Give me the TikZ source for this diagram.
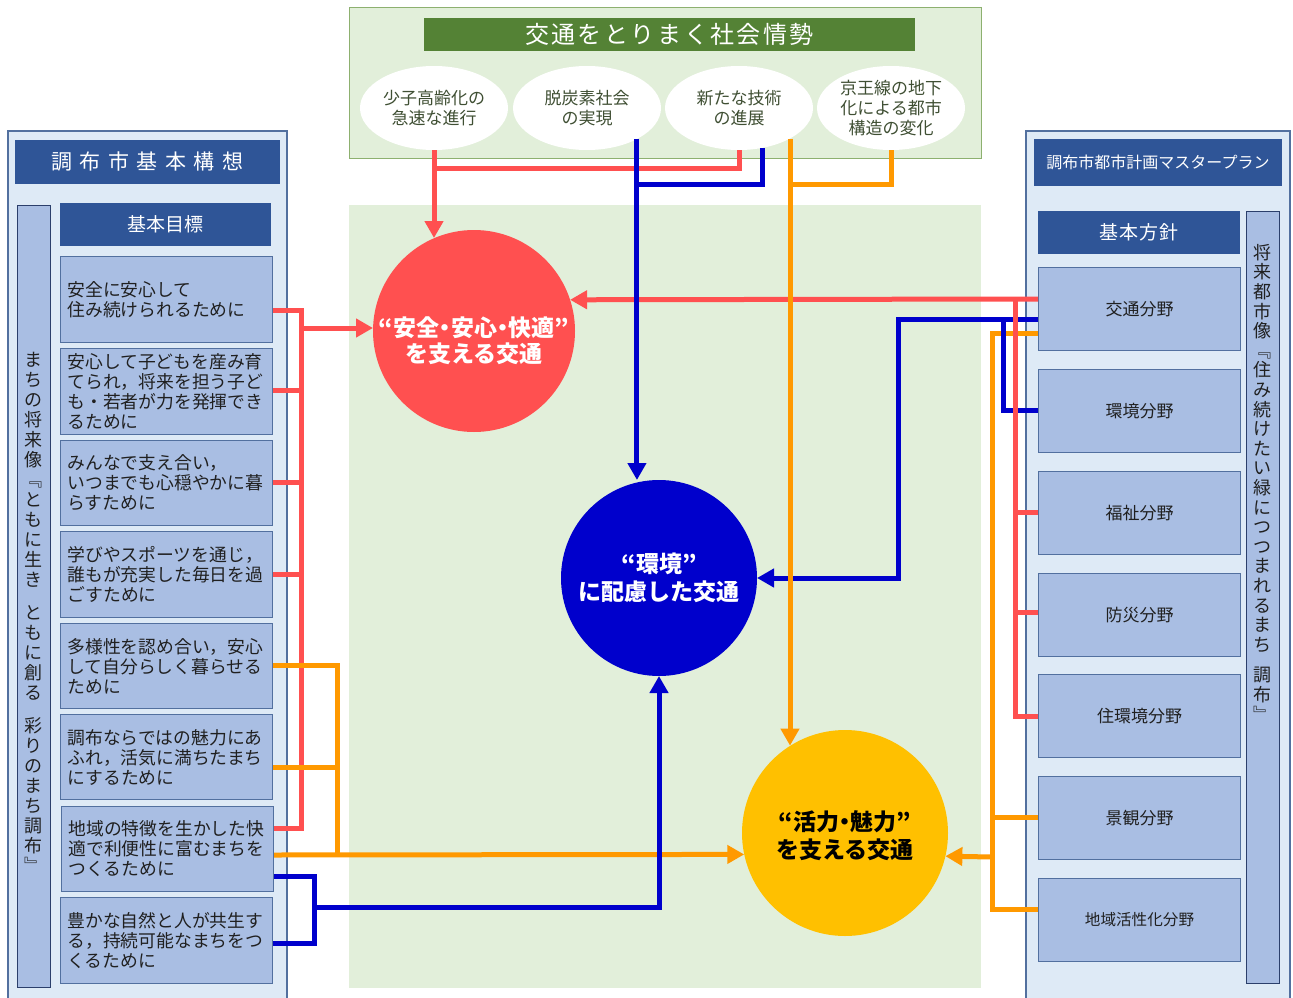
\documentclass[tikz,border=0pt]{standalone}
\usepackage{fontspec}
\setmainfont{Noto Sans CJK JP}
\newfontfamily\jpp[RawFeature=+palt]{Noto Sans CJK JP}
\usetikzlibrary{arrows.meta,shapes.geometric,calc}
\definecolor{cred}{HTML}{FF5050}
\definecolor{cblue}{HTML}{0000CC}
\definecolor{corange}{HTML}{FF9900}
\definecolor{cyellow}{HTML}{FFC000}
\definecolor{navy}{HTML}{2F5597}
\definecolor{panel}{HTML}{DEEAF6}
\definecolor{boxfill}{HTML}{A9BEE3}
\definecolor{boxline}{HTML}{52709F}
\definecolor{stripline}{HTML}{2B3F6B}
\definecolor{lgreen}{HTML}{E2EFDA}
\definecolor{dgreen}{HTML}{548235}
\definecolor{gline}{HTML}{8DB06F}
\definecolor{etext}{HTML}{3F4F33}
\definecolor{btext}{HTML}{202020}
\newcommand\pq[1]{{\jpp #1}}
\begin{document}
\begin{tikzpicture}[x=1pt,y=-1pt,
  conn/.style={line width=5pt,line cap=butt,line join=miter},
  arr/.style={-{Triangle[length=17pt,width=18pt]}},
  panelbox/.style={draw=boxline,line width=1.2pt,fill=panel},
  hdr/.style={fill=navy,text=white,inner sep=0pt},
  strip/.style={draw=stripline,line width=1pt,fill=boxfill},
  goal/.style={draw=boxline,line width=1pt,fill=boxfill,minimum width=212pt,text width=198pt,inner xsep=7pt,inner ysep=0pt,align=left,text=btext,font=\fontsize{17.8}{20}\selectfont,anchor=north west},
  field/.style={draw=boxline,line width=1pt,fill=boxfill,minimum width=202pt,minimum height=83pt,inner sep=0pt,text=btext,font=\fontsize{17}{20}\selectfont,anchor=north west},
  ell/.style={ellipse,fill=white,minimum width=148pt,minimum height=84pt,inner sep=0pt,align=center,text=etext,font=\fontsize{17}{20}\selectfont},
  circ/.style={circle,inner sep=0pt,outer sep=0pt},
  ctext/.style={align=center,inner sep=0pt,font=\bfseries\fontsize{23}{#1}\selectfont},
  vtext/.style={align=center,inner sep=0pt,anchor=north,text=btext,font=\fontsize{18}{#1}\selectfont}
]
\useasboundingbox (0,0) rectangle (1293,998);
\fill[white] (0,0) rectangle (1293,998);

% ---------- top box ----------
\draw[fill=lgreen,draw=gline,line width=1pt] (349,8) rectangle (981,158);
\node[fill=dgreen,minimum width=491pt,minimum height=33pt,inner sep=0pt,text=white,font=\fontsize{24}{26}\selectfont] (title) at (669.5,34.5)
  {交\kern2.5pt 通\kern2.5pt を\kern2.5pt と\kern2.5pt り\kern2.5pt ま\kern2.5pt く\kern2.5pt 社\kern2.5pt 会\kern2.5pt 情\kern2.5pt 勢};
\node[ell] (e1) at (434,108) {少子高齢化の\\急速な進行};
\node[ell] (e2) at (587,108) {脱炭素社会\\の実現};
\node[ell] (e3) at (739,108) {新たな技術\\の進展};
\node[ell] (e4) at (891,108) {京王線の地下\\化による都市\\構造の変化};

% ---------- centre region ----------
\fill[lgreen] (349,205) rectangle (981,988);
\node[circ,fill=cred,minimum size=202pt] (cR) at (474,331) {};
\node[ctext=26,text=white] (tR) at ($(cR.center)+(0,10)$) {\pq{“}安全\pq{・}安心\pq{・}快適\pq{”}\\を支える交通};
\node[circ,fill=cblue,minimum size=196pt] (cB) at (659,578) {};
\node[ctext=28,text=white] (tB) at (cB.center) {\pq{“}環境\pq{”}\\に配慮した交通};
\node[circ,fill=cyellow,minimum size=206pt] (cY) at (845,833) {};
\node[ctext=28,text=black] (tY) at ($(cY.center)+(0,3)$) {\pq{“}活力\pq{・}魅力\pq{”}\\を支える交通};

% ---------- left panel ----------
\draw[panelbox] (8,131) rectangle (287,1005);
\node[hdr,minimum width=265pt,minimum height=44pt,font=\fontsize{21}{24}\selectfont] (lh) at (147.5,162)
  {調\kern7.5pt 布\kern7.5pt 市\kern7.5pt 基\kern7.5pt 本\kern7.5pt 構\kern7.5pt 想};
\draw[strip] (17,205) rectangle (50,987);
\node[vtext=20] (lv) at (33.5,352) {ま\\ち\\の\\将\\来\\像\\﹃\\と\\も\\に\\生\\き\\[13pt]と\\も\\に\\創\\る\\[13pt]彩\\り\\の\\ま\\ち\\調\\布\\﹄};
\node[hdr,minimum width=211pt,minimum height=43pt,font=\fontsize{19}{22}\selectfont] (lg) at (165.5,224.5) {基本目標};
\node[goal,minimum height=86pt] (g1) at (60,256) {安全に安心して\\住み続けられるために};
\node[goal,minimum height=86pt] (g2) at (60,348) {安心して子どもを産み育\\てられ，将来を担う子ど\\も・若者が力を発揮でき\\るために};
\node[goal,minimum height=85pt] (g3) at (60,440) {みんなで支え合い，\\いつまでも心穏やかに暮\\らすために};
\node[goal,minimum height=86pt] (g4) at (60,531) {学びやスポーツを通じ，\\誰もが充実した毎日を過\\ごすために};
\node[goal,minimum height=85pt] (g5) at (60,623) {多様性を認め合い，安心\\して自分らしく暮らせる\\ために};
\node[goal,minimum height=85pt] (g6) at (60,714) {調布ならではの魅力にあ\\ふれ，活気に満ちたまち\\にするために};
\node[goal,minimum height=85pt] (g7) at (61,806) {地域の特徴を生かした快\\適で利便性に富むまちを\\つくるために};
\node[goal,minimum height=86pt] (g8) at (60,897) {豊かな自然と人が共生す\\る，持続可能なまちをつ\\くるために};

% ---------- right panel ----------
\draw[panelbox] (1026,131) rectangle (1290,1005);
\node[hdr,minimum width=248pt,minimum height=47pt,font=\fontsize{16}{20}\selectfont] (rh) at (1158,162.5) {調布市都市計画マスタープラン};
\node[hdr,minimum width=202pt,minimum height=43pt,font=\fontsize{19}{22}\selectfont] (rg) at (1139,232.5) {基\kern1pt 本\kern1pt 方\kern1pt 針};
\draw[strip] (1246,211) rectangle (1279,983);
\node[vtext=19.6] (rv) at (1262.5,244) {将\\来\\都\\市\\像\\﹃\\住\\み\\続\\け\\た\\い\\緑\\に\\つ\\つ\\ま\\れ\\る\\ま\\ち\\[11pt]調\\布\\﹄};
\node[field] (f1) at (1038,267) {交通分野};
\node[field] (f2) at (1038,369) {環境分野};
\node[field] (f3) at (1038,471) {福祉分野};
\node[field] (f4) at (1038,573) {防災分野};
\node[field] (f5) at (1038,674) {住環境分野};
\node[field] (f6) at (1038,776) {景観分野};
\node[field,font=\fontsize{15.6}{20}\selectfont] (f7) at (1038,878) {地域活性化分野};

% ---------- connectors: left ----------
\draw[conn,cred] (g1.east |- 0,310) -- (301,310) -- (301,828) -- (g7.east |- 0,828);
\draw[conn,cred] (g2.east |- 0,390) -- (301,390);
\draw[conn,cred] (g3.east |- 0,482) -- (301,482);
\draw[conn,cred] (g4.east |- 0,574) -- (301,574);
\draw[conn,cred,arr] (301,328) -- (cR.west |- 0,328);
\draw[conn,corange] (g5.east |- 0,665) -- (337,665) -- (337,855);
\draw[conn,corange] (g6.east |- 0,767) -- (337,767);
\draw[conn,corange,arr] (g7.east |- 0,855) -- (cY.192);
\draw[conn,cblue] (g7.east |- 0,876) -- (314,876) -- (314,943) -- (g8.east |- 0,943);
\draw[conn,cblue,arr] (314,907) -| (cB.south);

% ---------- connectors: top ----------
\draw[conn,cred,arr] (e1.south) -- (e1.south |- cR.113);
\draw[conn,cred] (e1.south |- 0,168) -- (e3.south |- 0,168) -- (e3.south);

% ---------- connectors: right ----------
\draw[conn,corange] (f1.west |- 0,333) -- (992,333) -- (992,909) -- (f7.west |- 0,909);
\draw[conn,corange] (f6.west |- 0,817) -- (992,817);
\draw[conn,corange,arr] (992,857) -- (cY.-13);
\draw[conn,cblue,arr] (f1.west |- 0,319) -- (898,319) -- (898,578) -- (cB.east);
\draw[conn,cblue] (1003,319) -- (1003,410) -- (f2.west |- 0,410);
\draw[conn,cred,arr] (f1.west |- 0,299) -- (cR.18);
\draw[conn,cred] (1015,299) -- (1015,716) -- (f5.west |- 0,716);
\draw[conn,cred] (f3.west |- 0,512) -- (1015,512);
\draw[conn,cred] (f4.west |- 0,612) -- (1015,612);

% top blue and orange (on top)
\draw[conn,cblue,arr] (e2.-32) -- (e2.-32 |- cB.north);
\draw[conn,cblue] (e2.-32 |- 0,184) -- (e3.-60 |- 0,184) -- (e3.-60);
\draw[conn,corange,arr] (e3.-31) -- (e3.-31 |- cY.122);
\draw[conn,corange] (e3.-31 |- 0,184) -- (e4.south |- 0,184) -- (e4.south);
\end{tikzpicture}
\end{document}
